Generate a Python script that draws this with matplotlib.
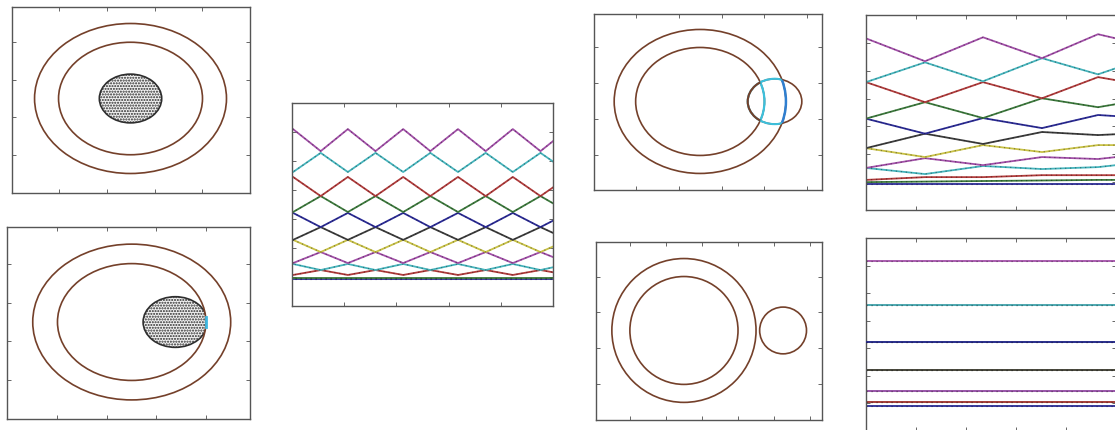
import matplotlib
matplotlib.use("Agg")
import matplotlib.pyplot as plt
from matplotlib.patches import Circle

W, H = 1115, 430

# colour order of the level curves, counted from the lowest one up
LINE_COLORS = ["#2b2b96", "#3d7a3d", "#b23c3c", "#45b5bd", "#a24fa8",
               "#c9c245", "#3c3c3c"]
RING = "#74402a"

# annulus and particle cloud
R_OUT = 2.0
R_IN = 1.5
R_BLOB = 0.65
BLOB_SHIFT = 0.88          # cloud centre after it drifts to the wall
PROBE_X = 1.74             # small circle centre, overlapping case
PROBE_R = 0.63
PROBE_FAR_X = 2.75         # small circle centre, detached case
PROBE_FAR_R = 0.65
WALL_MARK_X = [1.5, 1.5]
WALL_MARK_Y = [-0.12, 0.12]

# periodic spectrum: turning points and level values of each curve
zig_x = [-0.51, 0.02, 0.55, 1.07, 1.60, 2.13, 2.65, 3.18, 3.71, 4.23, 4.76, 5.29]
zig_levels = [
    [0.93, 0.93, 0.93, 0.93, 0.93, 0.93, 0.93, 0.93, 0.93, 0.93, 0.93, 0.93],
    [0.97, 0.97, 0.97, 0.97, 0.97, 0.97, 0.97, 0.97, 0.97, 0.97, 0.97, 0.97],
    [1.24, 1.07, 1.24, 1.07, 1.24, 1.07, 1.24, 1.07, 1.24, 1.07, 1.24, 1.07],
    [1.24, 1.45, 1.24, 1.45, 1.24, 1.45, 1.24, 1.45, 1.24, 1.45, 1.24, 1.45],
    [1.86, 1.48, 1.86, 1.48, 1.86, 1.48, 1.86, 1.48, 1.86, 1.48, 1.86, 1.48],
    [1.86, 2.28, 1.86, 2.28, 1.86, 2.28, 1.86, 2.28, 1.86, 2.28, 1.86, 2.28],
    [2.72, 2.28, 2.72, 2.28, 2.72, 2.28, 2.72, 2.28, 2.72, 2.28, 2.72, 2.28],
    [2.72, 3.21, 2.72, 3.21, 2.72, 3.21, 2.72, 3.21, 2.72, 3.21, 2.72, 3.21],
    [3.79, 3.24, 3.79, 3.24, 3.79, 3.24, 3.79, 3.24, 3.79, 3.24, 3.79, 3.24],
    [3.79, 4.45, 3.79, 4.45, 3.79, 4.45, 3.79, 4.45, 3.79, 4.45, 3.79, 4.45],
    [5.28, 4.62, 5.28, 4.62, 5.28, 4.62, 5.28, 4.62, 5.28, 4.62, 5.28, 4.62],
    [5.34, 6.10, 5.34, 6.10, 5.34, 6.10, 5.34, 6.10, 5.34, 6.10, 5.34, 6.10],
]

# perturbed spectrum
pert_x = [0.0, 1.18, 2.34, 3.52, 4.64, 5.0]
pert_levels = [
    [0.93, 0.93, 0.93, 0.93, 0.93, 0.93],
    [1.00, 1.02, 1.04, 1.06, 1.08, 1.08],
    [1.08, 1.18, 1.18, 1.25, 1.25, 1.25],
    [1.51, 1.29, 1.58, 1.47, 1.54, 1.61],
    [1.51, 1.86, 1.61, 1.90, 1.83, 1.90],
    [2.22, 1.90, 2.33, 2.08, 2.33, 2.33],
    [2.22, 2.74, 2.37, 2.80, 2.69, 2.72],
    [3.28, 2.74, 3.30, 2.94, 3.41, 3.37],
    [3.28, 3.87, 3.30, 4.01, 3.69, 3.80],
    [4.59, 3.87, 4.59, 4.01, 4.77, 4.66],
    [4.59, 5.30, 4.62, 5.45, 4.87, 5.09],
    [6.16, 5.34, 6.20, 5.45, 6.31, 6.16],
]

# unperturbed spectrum (flat levels)
flat_x = [0.0, 5.0]
flat_levels = [0.91, 1.05, 1.05, 1.45, 1.45, 2.22, 2.22, 3.24, 3.24,
               4.58, 4.58, 6.18]


def make_axes(fig, box, xlim, ylim, xticks, yticks):
    x0, y0, x1, y1 = box
    ax = fig.add_axes([x0 / W, 1 - y1 / H, (x1 - x0) / W, (y1 - y0) / H])
    ax.set_xlim(xlim)
    ax.set_ylim(ylim)
    ax.set_xticks(xticks)
    ax.set_yticks(yticks)
    ax.tick_params(direction="in", length=3, width=0.7, color="#666666",
                   top=True, right=True, labelbottom=False, labelleft=False)
    for s in ax.spines.values():
        s.set_color("#555555")
        s.set_linewidth(1.0)
    return ax


def ring(ax, center, r, color=RING, lw=1.2, clip=None):
    p = Circle(center, r, fill=False, ec=color, lw=lw, zorder=3)
    ax.add_patch(p)
    if clip is not None:
        p.set_clip_path(clip)
    return p


def cloud(ax, center, r, clip=None):
    fill = Circle(center, r, fc="#f2f2f2", ec="#2a2a2a", lw=0, hatch="......",
                  zorder=2)
    edge = Circle(center, r, fill=False, ec="#2e2e2e", lw=1.2, zorder=2)
    ax.add_patch(fill)
    ax.add_patch(edge)
    if clip is not None:
        fill.set_clip_path(clip)
        edge.set_clip_path(clip)


def draw_levels(ax, xs, levels, front=()):
    for i, ys in enumerate(levels):
        c = LINE_COLORS[i % len(LINE_COLORS)]
        z = 3 if i in front else 2
        ax.plot(xs, ys, color=c, lw=1.3, solid_joinstyle="round", zorder=z)
        ax.plot(xs, ys, color="black", lw=0.9, ls=(0, (1, 3)), alpha=0.35,
                zorder=z)


fig = plt.figure(figsize=(W / 100, H / 100), dpi=100)
half = [-1.5, -0.5, 0.5, 1.5]

# cloud at the centre of the annulus
ax1 = make_axes(fig, (12, 7, 250, 193), (-2.47, 2.49), (-2.52, 2.44), half, half)
ring(ax1, (0, 0), R_OUT)
ring(ax1, (0, 0), R_IN)
cloud(ax1, (0, 0), R_BLOB)

# cloud pushed against the inner wall
ax2 = make_axes(fig, (7, 227, 250, 419), (-2.52, 2.39), (-2.49, 2.44), half, half)
ring(ax2, (0, 0), R_OUT)
ring(ax2, (0, 0), R_IN)
inner_clip = Circle((0, 0), R_IN, transform=ax2.transData)
cloud(ax2, (BLOB_SHIFT, 0), R_BLOB, clip=inner_clip)
ax2.plot(WALL_MARK_X, WALL_MARK_Y, color="#3fb8e0", lw=2, zorder=4)

# periodic zigzag spectrum
ax3 = make_axes(fig, (292, 103, 553, 306), (0, 5), (0, 7),
                [1, 2, 3, 4], [1, 2, 3, 4, 5, 6])
draw_levels(ax3, zig_x, zig_levels)

# probe circle overlapping the annulus
ax4 = make_axes(fig, (594, 14, 822, 190), (-2.47, 2.84), (-2.46, 2.43),
                half + [2.5], half)
ring(ax4, (0, 0), R_OUT)
ring(ax4, (0, 0), R_IN)
ring(ax4, (PROBE_X, 0), PROBE_R)
probe_clip = Circle((PROBE_X, 0), PROBE_R, transform=ax4.transData)
ring(ax4, (0, 0), R_IN, color="#3cc0dc", lw=1.6, clip=probe_clip)
probe_clip2 = Circle((PROBE_X, 0), PROBE_R, transform=ax4.transData)
ring(ax4, (0, 0), R_OUT, color="#2f7fd0", lw=1.8, clip=probe_clip2)
outer_clip = Circle((0, 0), R_OUT, transform=ax4.transData)
ring(ax4, (PROBE_X, 0), PROBE_R, color="#3cc0dc", lw=1.5, clip=outer_clip)
in_clip = Circle((0, 0), R_IN, transform=ax4.transData)
ring(ax4, (PROBE_X, 0), PROBE_R, lw=1.5, clip=in_clip)

# probe circle away from the annulus
ax5 = make_axes(fig, (596, 242, 822, 420), (-2.44, 3.83), (-2.49, 2.46),
                half + [2.5, 3.5], half)
ring(ax5, (0, 0), R_OUT)
ring(ax5, (0, 0), R_IN)
ring(ax5, (PROBE_FAR_X, 0), PROBE_FAR_R)

# perturbed spectrum
ax6 = make_axes(fig, (866, 15, 1116, 210), (0, 5), (0, 7),
                [1, 2, 3, 4], [1, 2, 3, 4, 5, 6])
draw_levels(ax6, pert_x, pert_levels)

# unperturbed spectrum, degenerate pairs overlap
ax7 = make_axes(fig, (866, 238, 1116, 431), (0, 5), (0, 7),
                [1, 2, 3, 4], [1, 2, 3, 4, 5, 6])
draw_levels(ax7, flat_x, [[v, v] for v in flat_levels], front=(7,))

fig.savefig("out.png", dpi=100)
